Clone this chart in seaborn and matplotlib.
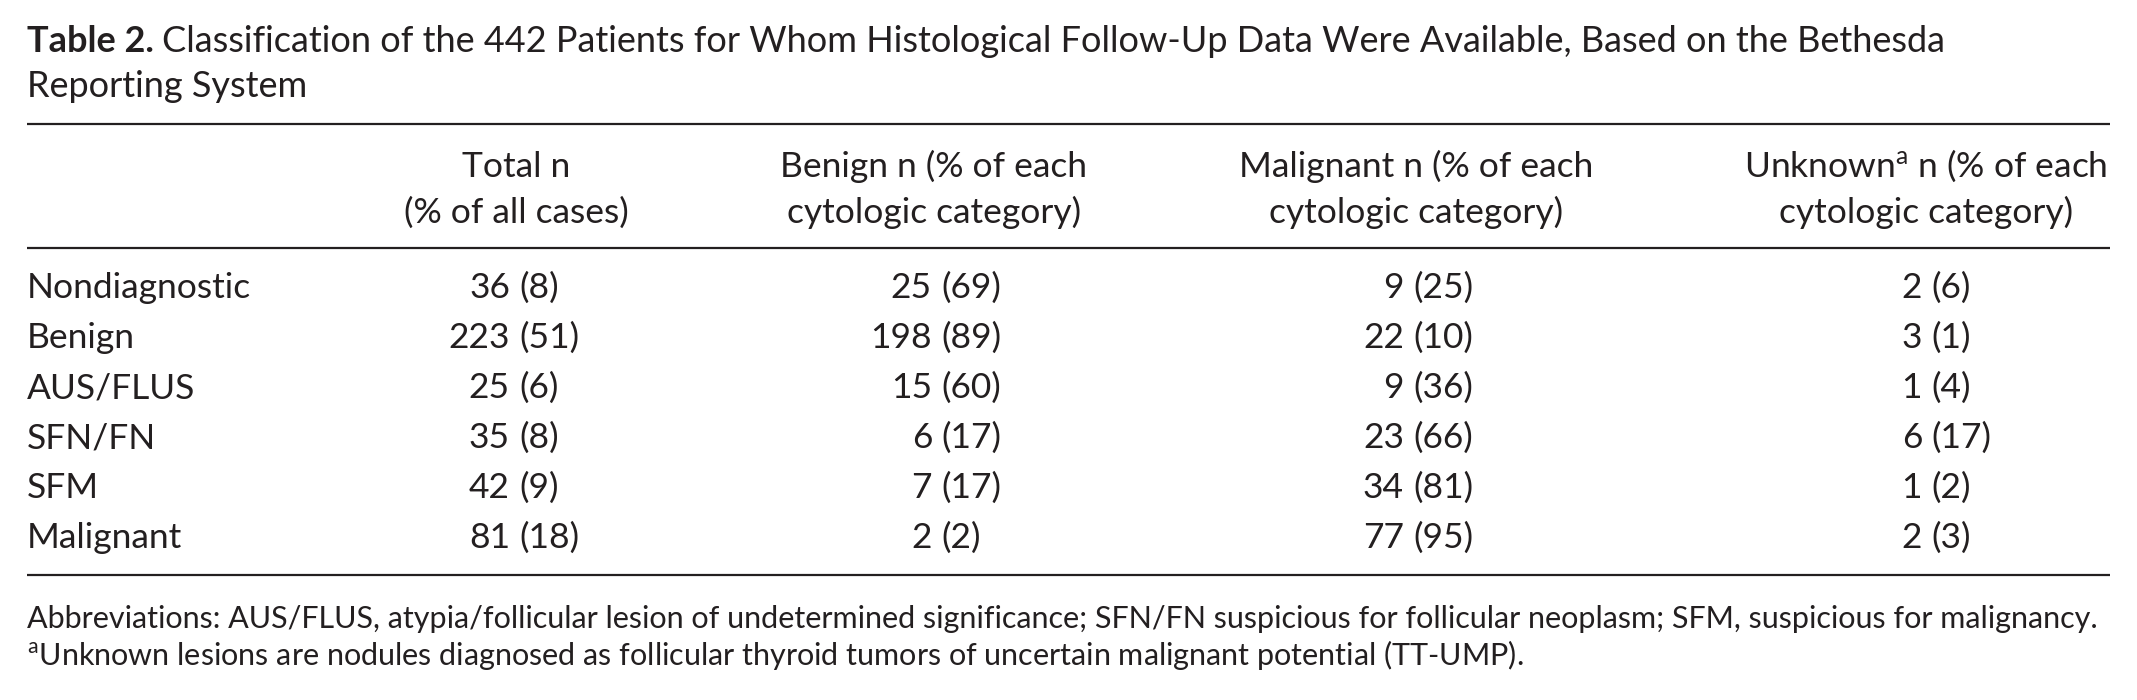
import matplotlib
matplotlib.use("Agg")
import matplotlib.pyplot as plt
import seaborn as sns

# Table contents (Bethesda classification, 442 patients)
categories = ["Nondiagnostic", "Benign", "AUS/FLUS", "SFN/FN", "SFM", "Malignant"]
total_n = [36, 223, 25, 35, 42, 81]
total_pct = [8, 51, 6, 8, 9, 18]
benign_n = [25, 198, 15, 6, 7, 2]
benign_pct = [69, 89, 60, 17, 17, 2]
malignant_n = [9, 22, 9, 23, 34, 77]
malignant_pct = [25, 10, 36, 66, 81, 95]
unknown_n = [2, 3, 1, 6, 1, 2]
unknown_pct = [6, 1, 4, 17, 2, 3]

header_top = ["Total n", "Benign n (% of each", "Malignant n (% of each", "Unknown$^{\\mathrm{a}}$ n (% of each"]
header_bottom = ["(% of all cases)", "cytologic category)", "cytologic category)", "cytologic category)"]

title_bold = "Table 2."
title_rest = "Classification of the 442 Patients for Whom Histological Follow-Up Data Were Available, Based on the Bethesda"
title_line2 = "Reporting System"
footnote_1 = ("Abbreviations: AUS/FLUS, atypia/follicular lesion of undetermined significance; "
              "SFN/FN suspicious for follicular neoplasm; SFM, suspicious for malignancy.")
footnote_2 = ("$^{\\mathrm{a}}$Unknown lesions are nodules diagnosed as follicular thyroid tumors "
              "of uncertain malignant potential (TT-UMP).")

sns.set_theme(style="white")
plt.rcParams["font.family"] = ["Lato", "DejaVu Sans"]
plt.rcParams["mathtext.fontset"] = "custom"
plt.rcParams["mathtext.rm"] = "Lato"
plt.rcParams["mathtext.it"] = "Lato:italic"
plt.rcParams["mathtext.bf"] = "Lato:bold"

ink = "#231f20"
fs_title = 26
fs = 25.5
fs_note = 22

fig = plt.figure(figsize=(21.37, 7.0), dpi=100)
ax = fig.add_axes([0, 0, 1, 1])
ax.set_xlim(0, 2137)
ax.set_ylim(700, 0)
ax.axis("off")

left = 27
right = 2110

# title, bold label followed by plain text
tb = ax.text(left, 52, title_bold, fontsize=fs_title, fontweight="bold", color=ink, va="baseline")
fig.canvas.draw()
bb = tb.get_window_extent(renderer=fig.canvas.get_renderer())
ax.text(bb.x1 + 8, 52, title_rest, fontsize=fs_title, color=ink, va="baseline")
ax.text(left, 97, title_line2, fontsize=fs_title, color=ink, va="baseline")

# rules
for y in [124, 248, 575]:
    ax.plot([left, right], [y, y], color=ink, lw=1.6, solid_capstyle="butt")

# column headers
head_x = [516, 934, 1416, 1926]
for x, top, bot in zip(head_x, header_top, header_bottom):
    ax.text(x, 177, top, fontsize=fs, color=ink, ha="center", va="baseline")
    ax.text(x, 223, bot, fontsize=fs, color=ink, ha="center", va="baseline")

# body: numbers aligned on the opening parenthesis
paren_x = [519, 941, 1413, 1931]
columns = [(total_n, total_pct), (benign_n, benign_pct),
           (malignant_n, malignant_pct), (unknown_n, unknown_pct)]
row_y0 = 298
row_step = 50
for i, cat in enumerate(categories):
    y = row_y0 + i * row_step
    ax.text(left, y, cat, fontsize=fs, color=ink, va="baseline")
    for px, (ns, ps) in zip(paren_x, columns):
        ax.text(px - 9, y, str(ns[i]), fontsize=fs, color=ink, ha="right", va="baseline")
        ax.text(px, y, "(%d)" % ps[i], fontsize=fs, color=ink, ha="left", va="baseline")

# footnotes
ax.text(left, 628, footnote_1, fontsize=fs_note, color=ink, va="baseline")
ax.text(left, 665, footnote_2, fontsize=fs_note, color=ink, va="baseline")

fig.savefig("out.png", dpi=100, facecolor="white")
